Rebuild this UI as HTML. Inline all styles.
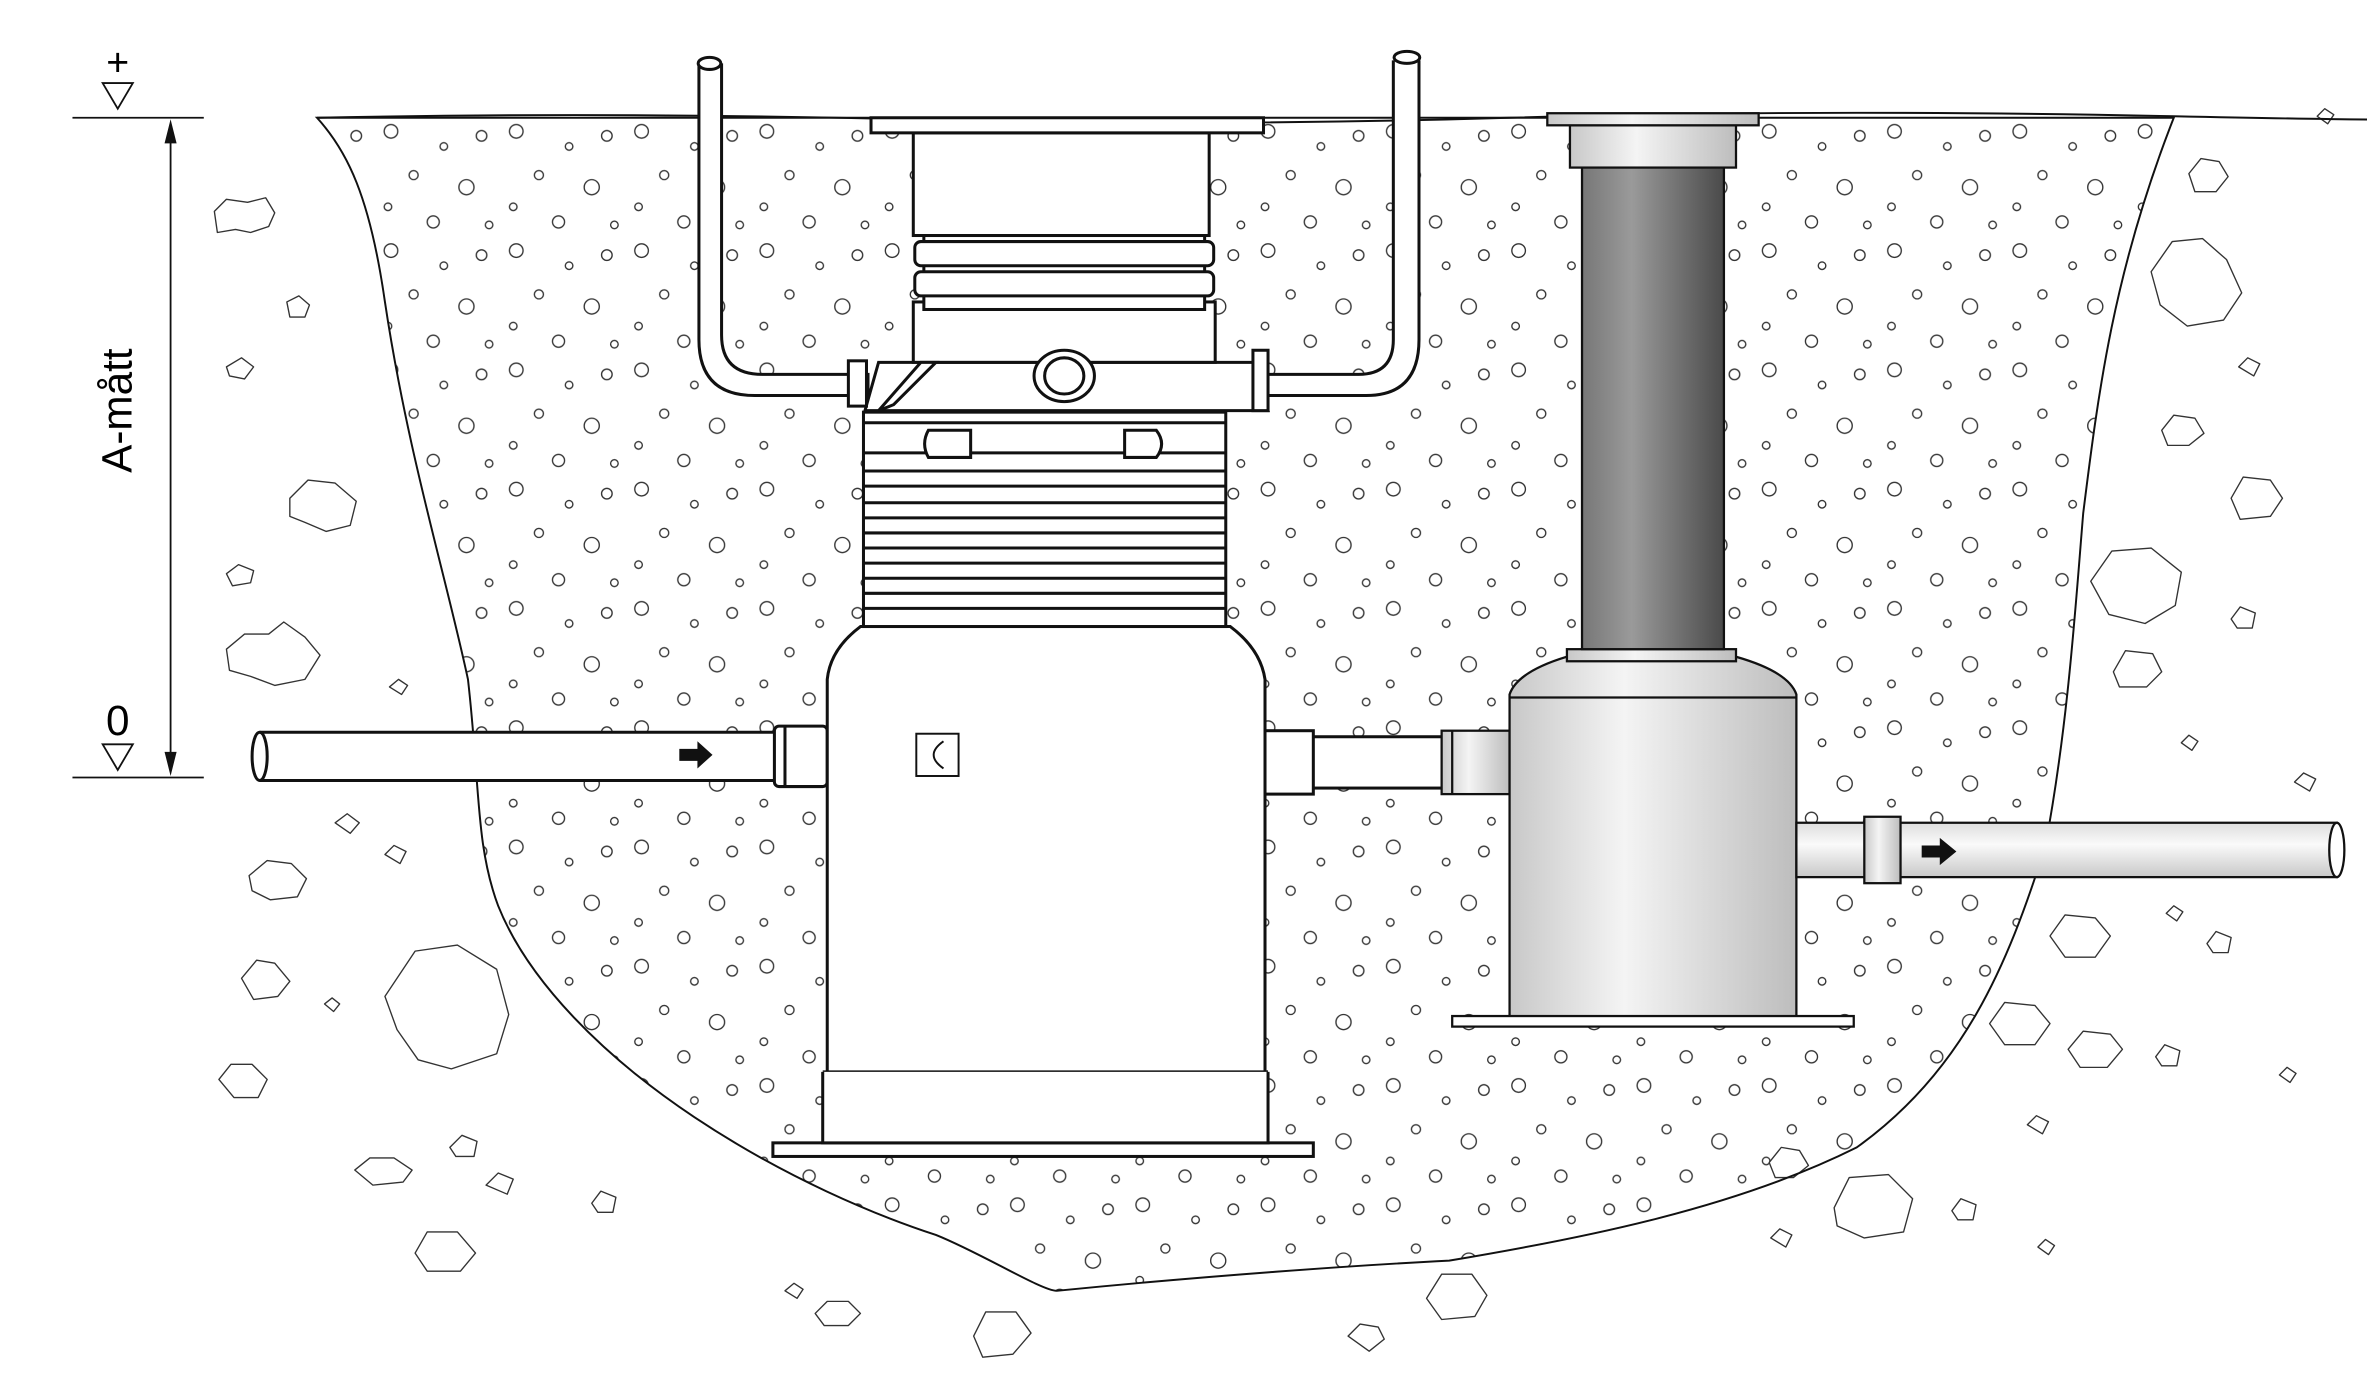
<!DOCTYPE html>
<html><head><meta charset="utf-8"><style>
html,body{margin:0;padding:0;background:#fff;width:2367px;height:1398px;overflow:hidden}
svg{display:block}
text{font-family:"Liberation Sans",sans-serif}
</style></head><body>
<svg width="2367" height="1398" viewBox="0 0 1568 926" preserveAspectRatio="none" xmlns="http://www.w3.org/2000/svg">
<defs>
<linearGradient id="dk" x1="0" x2="1"><stop offset="0" stop-color="#777"/><stop offset=".35" stop-color="#9a9a9a"/><stop offset="1" stop-color="#4a4a4a"/></linearGradient>
<linearGradient id="lt" x1="0" x2="1"><stop offset="0" stop-color="#c8c8c8"/><stop offset=".4" stop-color="#f4f4f4"/><stop offset="1" stop-color="#bdbdbd"/></linearGradient>
<linearGradient id="pv" x1="0" y1="0" x2="0" y2="1"><stop offset="0" stop-color="#ddd"/><stop offset=".4" stop-color="#fafafa"/><stop offset="1" stop-color="#c8c8c8"/></linearGradient>
<pattern id="pa" width="83" height="79" patternUnits="userSpaceOnUse">
<g fill="none" stroke="#333" stroke-width="0.9">
<circle cx="10" cy="8" r="4.5"/><circle cx="45" cy="18" r="2.5"/><circle cx="70" cy="11" r="3.5"/>
<circle cx="25" cy="37" r="3"/><circle cx="60" cy="45" r="5"/><circle cx="8" cy="58" r="2.5"/>
<circle cx="38" cy="68" r="4"/><circle cx="75" cy="70" r="2.5"/>
</g></pattern>
<path id="ex" d="M210 78 C230 100 245 130 255 200 C270 300 295 380 310 450 C318 520 315 560 330 600 C350 650 400 700 460 740 C520 780 580 805 620 818 C650 830 690 855 700 855 C800 845 900 838 960 835 C1050 820 1150 800 1230 760 C1300 710 1330 640 1355 560 C1370 480 1375 400 1380 340 C1390 260 1400 180 1440 78 Z"/>
</defs>
<use href="#ex" fill="url(#pa)"/>
<g fill="#fff" stroke="#333" stroke-width="0.9" stroke-linejoin="round">
<path d="M142 140 l8 -8 l14 2 l12 -3 l6 10 l-4 9 l-12 4 l-10 -2 l-12 2 z"/>
<path d="M190 200 l8 -4 l7 6 l-3 8 l-10 0 z"/>
<path d="M150 243 l10 -6 l8 6 l-6 8 l-10 -2 z"/>
<path d="M192 330 l12 -12 l18 2 l14 12 l-4 16 l-16 4 l-14 -6 l-10 -4 z"/>
<path d="M150 380 l8 -6 l10 4 l-2 8 l-12 2 z"/>
<path d="M150 430 l12 -10 l16 0 l10 -8 l14 10 l10 12 l-10 16 l-20 4 l-16 -6 l-14 -4 z"/>
<path d="M258 455 l6 -5 l6 4 l-4 6 z"/>
<path d="M222 545 l8 -6 l8 6 l-6 7 z"/>
<path d="M165 580 l12 -10 l16 2 l10 10 l-6 12 l-18 2 l-12 -6 z"/>
<path d="M255 566 l6 -6 l8 4 l-4 8 z"/>
<path d="M160 648 l10 -12 l12 2 l10 12 l-8 10 l-16 2 z"/>
<path d="M255 660 l20 -30 l28 -4 l26 16 l8 30 l-8 26 l-30 10 l-22 -6 l-14 -20 z"/>
<path d="M145 715 l8 -10 l14 0 l10 10 l-6 12 l-16 0 z"/>
<path d="M215 665 l5 -4 l5 4 l-4 5 z"/>
<path d="M235 775 l10 -8 l16 0 l12 8 l-6 8 l-20 2 z"/>
<path d="M298 760 l8 -8 l10 4 l-2 10 l-12 0 z"/>
<path d="M322 785 l8 -8 l10 4 l-4 10 z"/>
<path d="M392 797 l6 -8 l10 4 l-2 10 l-10 0 z"/>
<path d="M275 830 l8 -14 l20 0 l12 14 l-10 12 l-22 0 z"/>
<path d="M540 870 l8 -8 l14 0 l8 8 l-8 8 l-16 0 z"/>
<path d="M645 885 l8 -16 l20 0 l10 14 l-12 14 l-20 2 z"/>
<path d="M520 855 l6 -5 l6 4 l-4 6 z"/>
<path d="M893 885 l8 -8 l12 2 l4 8 l-10 8 z"/>
<path d="M945 860 l10 -16 l20 0 l10 14 l-8 14 l-22 2 z"/>
<path d="M1450 115 l8 -10 l12 2 l6 10 l-8 10 l-14 0 z"/>
<path d="M1425 180 l14 -20 l20 -2 l16 14 l10 22 l-12 18 l-24 4 l-18 -14 z"/>
<path d="M1483 243 l6 -6 l8 4 l-4 8 z"/>
<path d="M1432 285 l8 -10 l14 2 l6 10 l-10 8 l-14 0 z"/>
<path d="M1478 330 l8 -14 l18 2 l8 12 l-8 12 l-20 2 z"/>
<path d="M1385 385 l14 -20 l26 -2 l20 16 l-4 22 l-20 12 l-24 -6 z"/>
<path d="M1478 410 l6 -8 l10 4 l-2 10 l-10 0 z"/>
<path d="M1400 445 l8 -14 l18 2 l6 12 l-10 10 l-18 0 z"/>
<path d="M1445 492 l5 -5 l6 4 l-4 6 z"/>
<path d="M1520 518 l6 -6 l8 4 l-4 8 z"/>
<path d="M1358 620 l10 -14 l20 2 l10 12 l-10 14 l-20 0 z"/>
<path d="M1462 625 l6 -8 l10 4 l-2 10 l-10 0 z"/>
<path d="M1435 605 l5 -5 l6 4 l-4 6 z"/>
<path d="M1318 678 l10 -14 l20 2 l10 12 l-10 14 l-20 0 z"/>
<path d="M1370 695 l10 -12 l18 2 l8 10 l-10 12 l-18 0 z"/>
<path d="M1428 700 l6 -8 l10 4 l-2 10 l-10 0 z"/>
<path d="M1510 712 l5 -5 l6 4 l-4 6 z"/>
<path d="M1343 745 l6 -6 l8 4 l-4 8 z"/>
<path d="M1215 800 l10 -20 l26 -2 l16 16 l-6 22 l-26 4 l-18 -8 z"/>
<path d="M1293 802 l6 -8 l10 4 l-2 10 l-10 0 z"/>
<path d="M1173 820 l6 -6 l8 4 l-4 8 z"/>
<path d="M1172 770 l8 -10 l12 2 l6 10 l-10 8 l-12 0 z"/>
<path d="M1350 826 l5 -5 l6 4 l-4 6 z"/>
<path d="M1535 77 l5 -5 l6 4 l-4 6 z"/>
</g>
<path d="M210 78 Q400 74 600 79 T1000 78 T1440 77 T1568 76" fill="none" stroke="#111" stroke-width="1.3"/>
<use href="#ex" fill="none" stroke="#111" stroke-width="1.3"/>
<g stroke="#111" stroke-width="1.2" fill="none">
<line x1="48" y1="78" x2="135" y2="78"/><line x1="48" y1="515" x2="135" y2="515"/>
<line x1="113" y1="86" x2="113" y2="507"/>
<path d="M68 55 L88 55 L78 72 Z"/><path d="M68 493 L88 493 L78 510 Z"/>
</g>
<path d="M113 79 L109 95 L117 95Z M113 514 L109 498 L117 498Z" fill="#111"/>
<text x="78" y="50" font-size="26" text-anchor="middle">+</text>
<text x="78" y="487" font-size="28" text-anchor="middle">0</text>
<text transform="translate(87,272) rotate(-90)" font-size="28" text-anchor="middle">A-mått</text>
<g stroke="#111" stroke-width="2" fill="#fff">
<path d="M463 42 L463 225 Q463 262 500 262 L575 262 L575 248 L505 248 Q478 248 478 222 L478 42" />
<path d="M923 40 L923 225 Q923 248 900 248 L830 248 L830 262 L905 262 Q940 262 940 225 L940 40"/>
<ellipse cx="470" cy="42" rx="7.5" ry="4"/><ellipse cx="932" cy="38" rx="8.5" ry="4"/>
<path d="M172 485 L515 485 L515 517 L172 517" fill="#fff"/>
<ellipse cx="172" cy="501" rx="5" ry="16"/>
<rect x="513" y="481" width="35" height="40" rx="3"/>
<line x1="520" y1="481" x2="520" y2="521"/>
<path d="M548 450 Q550 430 570 415 L815 415 Q835 430 838 450 L838 745 L548 745 Z"/>
<line x1="545" y1="710" x2="840" y2="710"/>
<rect x="512" y="757" width="358" height="9"/>
<path d="M545 710 L545 757 L840 757 L840 710"/>
<rect x="607" y="486" width="28" height="28" stroke-width="1.3"/>
<path d="M625 491 Q612 500 625 509" fill="none" stroke-width="1.3"/>
<rect x="572" y="273" width="240" height="142"/>
<path d="M572 280 L812 280 M572 300 L812 300 M572 312 L812 312 M572 322 L812 322 M572 333 L812 333 M572 343 L812 343 M572 353 L812 353 M572 363 L812 363 M572 373 L812 373 M572 383 L812 383 M572 393 L812 393 M572 403 L812 403" fill="none"/>
<path d="M615 285 L643 285 L643 303 L615 303 Q610 294 615 285Z M745 285 L766 285 Q773 294 766 303 L745 303Z"/>
<path d="M573 272 L582 240 L832 240 L840 272 Z"/>
<rect x="605" y="200" width="200" height="40"/>
<path d="M582 272 L610 240 L620 240 L592 268Z"/>
<ellipse cx="705" cy="249" rx="20" ry="17"/><ellipse cx="705" cy="249" rx="13" ry="12"/>
<rect x="562" y="239" width="12" height="30"/><rect x="830" y="232" width="10" height="40"/>
<rect x="612" y="155" width="186" height="50"/>
<rect x="606" y="160" width="198" height="16" rx="4"/><rect x="606" y="180" width="198" height="16" rx="4"/>
<rect x="605" y="88" width="196" height="68"/>
<rect x="577" y="78" width="260" height="10"/>
<rect x="838" y="488" width="120" height="34"/>
<rect x="838" y="484" width="32" height="42"/>
</g>
<g stroke="#111" stroke-width="1.5">
<rect x="955" y="484" width="45" height="42" fill="url(#lt)"/>
<line x1="962" y1="484" x2="962" y2="526"/>
<path d="M1000 460 Q1005 445 1038 435 L1150 435 Q1185 445 1190 460 L1190 675 L1000 675Z" fill="url(#lt)"/>
<line x1="1000" y1="462" x2="1190" y2="462"/>
<rect x="962" y="673" width="266" height="7" fill="#fff"/>
<rect x="1038" y="430" width="112" height="8" fill="url(#lt)"/>
<rect x="1048" y="110" width="94" height="320" fill="url(#dk)"/>
<rect x="1040" y="83" width="110" height="28" fill="url(#lt)"/>
<rect x="1025" y="75" width="140" height="8" fill="url(#lt)"/>
<path d="M1190 545 L1548 545 L1548 581 L1190 581Z" fill="url(#pv)"/>
<ellipse cx="1548" cy="563" rx="5" ry="18" fill="#fff"/>
<rect x="1235" y="541" width="24" height="44" fill="url(#lt)"/>
</g>
<path d="M450 496 L462 496 L462 491 L472 500 L462 509 L462 504 L450 504Z" fill="#111"/>
<path d="M1273 560 L1285 560 L1285 555 L1296 564 L1285 573 L1285 568 L1273 568Z" fill="#111"/>
</svg>
</body></html>
